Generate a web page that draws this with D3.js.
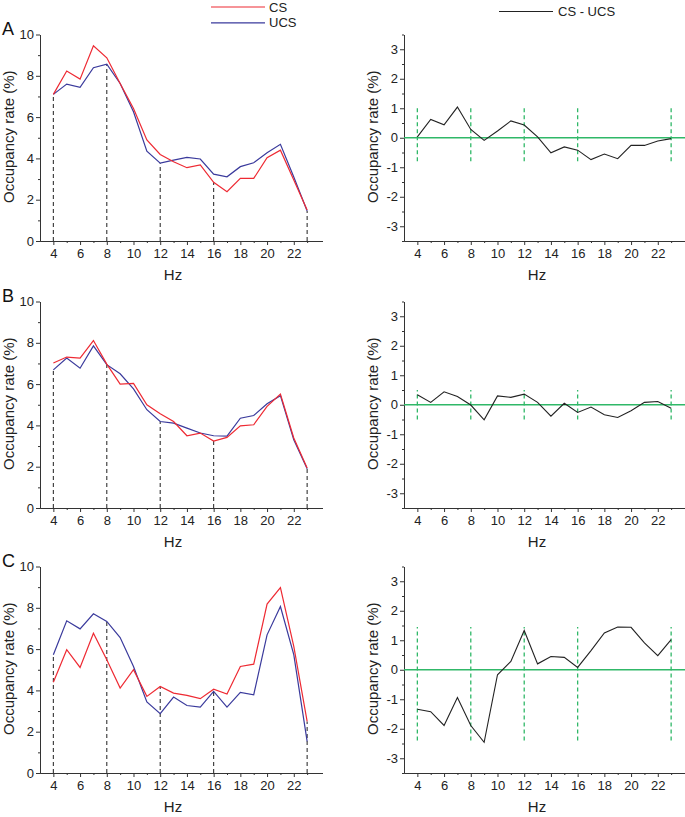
<!DOCTYPE html>
<html>
<head>
<meta charset="utf-8">
<script src="https://cdn.jsdelivr.net/npm/d3@7"></script>
<style>
  html, body { margin: 0; padding: 0; background: #fff; }
  svg { display: block; font-family: "Liberation Sans", Arial, Helvetica, sans-serif; }
</style>
</head>
<body>
<svg id="chart" width="685" height="817"></svg>
<script>
// ---------------- data ----------------
const hz = [4, 5, 6, 7, 8, 9, 10, 11, 12, 13, 14, 15, 16, 17, 18, 19, 20, 21, 22, 23];

const csA  = [7.10, 8.23, 7.84, 9.45, 8.87, 7.63, 6.42, 4.89, 4.19, 3.84, 3.55, 3.68, 2.84, 2.39, 3.03, 3.03, 4.03, 4.40, 2.95, 1.50];
const ucsA = [7.10, 7.60, 7.44, 8.39, 8.56, 7.63, 6.26, 4.35, 3.77, 3.92, 4.05, 3.97, 3.24, 3.11, 3.60, 3.79, 4.27, 4.68, 3.10, 1.45];
const diffA = [0.03, 0.62, 0.44, 1.04, 0.28, -0.09, 0.23, 0.57, 0.43, 0.03, -0.51, -0.31, -0.42, -0.74, -0.55, -0.71, -0.26, -0.26, -0.11, -0.03];

const csB  = [7.02, 7.31, 7.26, 8.11, 6.97, 6.00, 6.03, 5.00, 4.56, 4.19, 3.50, 3.63, 3.24, 3.42, 3.98, 4.03, 4.92, 5.52, 3.39, 1.94];
const ucsB = [6.69, 7.26, 6.77, 7.85, 6.94, 6.50, 5.77, 4.76, 4.19, 4.11, 3.87, 3.63, 3.50, 3.48, 4.35, 4.48, 5.05, 5.44, 3.30, 1.90];
const diffB = [0.34, 0.08, 0.44, 0.28, -0.01, -0.51, 0.30, 0.25, 0.36, 0.08, -0.39, 0.05, -0.26, -0.08, -0.34, -0.43, -0.20, 0.08, 0.11, -0.12];

const csC  = [4.39, 5.97, 5.11, 6.77, 5.48, 4.11, 5.00, 3.71, 4.19, 3.87, 3.76, 3.60, 4.06, 3.82, 5.16, 5.27, 8.18, 8.98, 6.13, 2.50];
const ucsC = [5.73, 7.37, 6.98, 7.71, 7.34, 6.56, 5.16, 3.44, 2.87, 3.68, 3.27, 3.19, 3.95, 3.19, 3.90, 3.79, 6.69, 8.06, 5.73, 1.53];
const diffC = [-1.34, -1.42, -1.89, -0.94, -1.89, -2.46, -0.17, 0.28, 1.33, 0.20, 0.45, 0.42, 0.08, 0.65, 1.25, 1.45, 1.44, 0.91, 0.48, 1.02];

const guideHz = [4, 8, 12, 16, 23];
const guideTopA = [7.10, 8.56, 3.77, 2.84, 1.45];
const guideTopB = [6.69, 6.94, 4.19, 3.24, 1.90];
const guideTopC = [5.73, 7.34, 4.19, 4.06, 2.50];
const greenRangeA = [-0.80, 1.10];
const greenRangeB = [-0.50, 0.50];
const greenRangeC = [-2.40, 1.45];

const panelLetters = ["A", "B", "C"];
const xMajorTicks = [4, 6, 8, 10, 12, 14, 16, 18, 20, 22];
const xMinorTicks = [5, 7, 9, 11, 13, 15, 17, 19, 21, 23];
const leftMajorTicks = [0, 2, 4, 6, 8, 10];
const leftMinorTicks = [1, 3, 5, 7, 9];
const rightMajorTicks = [-3, -2, -1, 0, 1, 2, 3];
const rightMinorTicks = [-3.5, -2.5, -1.5, -0.5, 0.5, 1.5, 2.5, 3.5];
const seriesNames = ["CS", "UCS"];
const diffName = "CS - UCS";

// ---------------- layout / style ----------------
const RED = "#ee2a33", BLUE = "#3a3a9c", GREEN = "#30b868", AXIS = "#333", BLACK = "#222";
const panelTops = [34.5, 301.5, 566.5];
const plotH = 206.5;
const plotW = 282.5;
const leftX = 40, rightX = 404;

const svg = d3.select("#chart");

const panels = [
  {cs: csA, ucs: ucsA, diff: diffA, gTop: guideTopA, gRange: greenRangeA},
  {cs: csB, ucs: ucsB, diff: diffB, gTop: guideTopB, gRange: greenRangeB},
  {cs: csC, ucs: ucsC, diff: diffC, gTop: guideTopC, gRange: greenRangeC}
];

function drawAxes(g, x, y, yMajor, yMinor, fmt) {
  // x axis
  g.append("g").attr("transform", `translate(0,${plotH})`)
    .call(d3.axisBottom(x).tickValues(xMajorTicks).tickSize(4).tickPadding(4).tickSizeOuter(0))
    .call(a => a.selectAll("text").attr("font-size", 13).attr("fill", "#222"));
  g.append("g").attr("transform", `translate(0,${plotH})`)
    .call(d3.axisBottom(x).tickValues(xMinorTicks).tickSize(2).tickFormat("").tickSizeOuter(0));
  // y axis
  g.append("g")
    .call(d3.axisLeft(y).tickValues(yMajor).tickSize(4).tickPadding(2).tickSizeOuter(0).tickFormat(fmt))
    .call(a => a.selectAll("text").attr("font-size", 13).attr("fill", "#222"));
  g.append("g")
    .call(d3.axisLeft(y).tickValues(yMinor).tickSize(2).tickFormat("").tickSizeOuter(0));
  g.selectAll(".domain, .tick line").attr("stroke", AXIS).attr("stroke-width", 1);
  g.selectAll("text").attr("font-family", "'Liberation Sans', Arial, sans-serif");
  // labels
  g.append("text").attr("x", 133).attr("y", plotH + 38.5)
    .attr("text-anchor", "middle").attr("font-size", 15).attr("fill", "#222").text("Hz");
  g.append("text").attr("transform", `translate(-26,${plotH / 2 - 1}) rotate(-90)`)
    .attr("text-anchor", "middle").attr("font-size", 15).attr("fill", "#222").text("Occupancy rate (%)");
}

panels.forEach((p, i) => {
  const top = panelTops[i];
  const x = d3.scaleLinear().domain([3, 24.15]).range([0, plotW]);

  // ---- left panel ----
  const gL = svg.append("g").attr("transform", `translate(${leftX},${top})`);
  const yL = d3.scaleLinear().domain([0, 10]).range([plotH, 0]);

  gL.selectAll("line.guide").data(guideHz).join("line")
    .attr("x1", d => x(d)).attr("x2", d => x(d))
    .attr("y1", yL(0)).attr("y2", (d, k) => yL(p.gTop[k]))
    .attr("stroke", "#333").attr("stroke-width", 1.1).attr("stroke-dasharray", "4,3");

  drawAxes(gL, x, yL, leftMajorTicks, leftMinorTicks, d => String(d));

  const line = d3.line().x((d, k) => x(hz[k])).y(d => yL(d));
  gL.append("path").datum(p.ucs).attr("d", line).attr("fill", "none").attr("stroke", BLUE).attr("stroke-width", 1.2);
  gL.append("path").datum(p.cs).attr("d", line).attr("fill", "none").attr("stroke", RED).attr("stroke-width", 1.2);

  svg.append("text").attr("x", 2).attr("y", top + 0.5).attr("font-size", 18).attr("fill", "#111").text(panelLetters[i]);

  // ---- right panel ----
  const gR = svg.append("g").attr("transform", `translate(${rightX},${top})`);
  const yR = d3.scaleLinear().domain([-3.5, 3.5]).range([plotH, 0]);

  gR.selectAll("line.gguide").data(guideHz).join("line")
    .attr("x1", d => x(d)).attr("x2", d => x(d))
    .attr("y1", yR(p.gRange[0])).attr("y2", yR(p.gRange[1]))
    .attr("stroke", GREEN).attr("stroke-width", 1.3).attr("stroke-dasharray", "4,3");

  drawAxes(gR, x, yR, rightMajorTicks, rightMinorTicks, d => String(d));

  gR.append("line").attr("x1", 0).attr("x2", plotW).attr("y1", yR(0)).attr("y2", yR(0))
    .attr("stroke", GREEN).attr("stroke-width", 1.5);

  const lineR = d3.line().x((d, k) => x(hz[k])).y(d => yR(d));
  gR.append("path").datum(p.diff).attr("d", lineR).attr("fill", "none").attr("stroke", BLACK).attr("stroke-width", 1.1);
});

// ---------------- legends ----------------
const legColors = [RED, BLUE];
seriesNames.forEach((n, k) => {
  const yy = 7 + k * 15.8;
  svg.append("line").attr("x1", 211).attr("x2", 265).attr("y1", yy).attr("y2", yy)
    .attr("stroke", legColors[k]).attr("stroke-width", 1.2);
  svg.append("text").attr("x", 269).attr("y", yy + 4.6).attr("font-size", 13).attr("fill", "#222").text(n);
});
svg.append("line").attr("x1", 499).attr("x2", 553).attr("y1", 11.5).attr("y2", 11.5)
  .attr("stroke", BLACK).attr("stroke-width", 1.1);
svg.append("text").attr("x", 558).attr("y", 16.2).attr("font-size", 13).attr("fill", "#222").text(diffName);
</script>
</body>
</html>
